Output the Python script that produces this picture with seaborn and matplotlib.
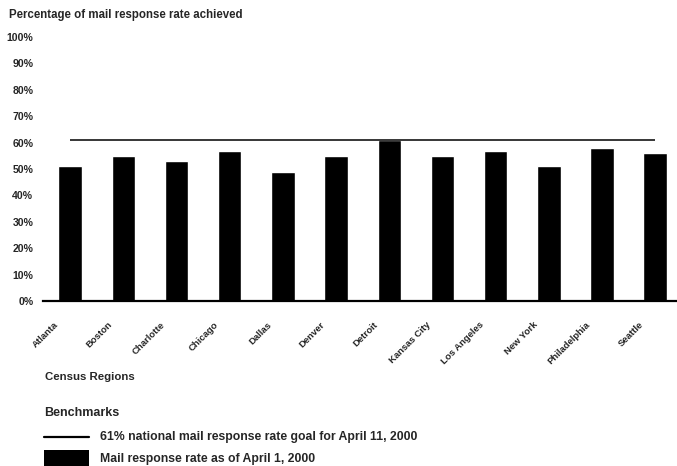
import matplotlib
matplotlib.use("Agg")
import matplotlib.pyplot as plt
import matplotlib.transforms as mtransforms
from matplotlib.patches import Rectangle
from matplotlib.lines import Line2D
import seaborn as sns
import pandas as pd

# Census regions and mail response rates (percent) as of April 1, 2000
regions = ["Atlanta", "Boston", "Charlotte", "Chicago", "Dallas", "Denver",
           "Detroit", "Kansas City", "Los Angeles", "New York", "Philadelphia", "Seattle"]
response_rates = [51, 55, 53, 57, 49, 55, 61, 55, 57, 51, 58, 56]
national_goal = 61
y_ticks = [0, 10, 20, 30, 40, 50, 60, 70, 80, 90, 100]
y_tick_labels = [f"{v}%" for v in y_ticks]

df = pd.DataFrame({"region": regions, "rate": response_rates})

sns.set_theme(style="white")
plt.rcParams["font.family"] = ["Liberation Sans", "DejaVu Sans"]
plt.rcParams["font.weight"] = "bold"

W, H = 677, 466
fig = plt.figure(figsize=(W / 100, H / 100), dpi=100)
fig.patch.set_facecolor("white")

# axes box in pixel units: left 43, right 677, top 37, bottom 301
ax = fig.add_axes([43 / W, 1 - 301 / H, (677 - 43) / W, (301 - 37) / H])

sns.barplot(data=df, x="region", y="rate", color="black", saturation=1,
            width=0.44, ax=ax)

# national goal line across the regions
ax.hlines(national_goal, 0, len(regions) - 1, color="black", linewidth=1.1)

ax.set_xlim(-0.51, 11.41)
ax.set_ylim(0, 100)
ax.set_yticks(y_ticks)
ax.set_yticklabels(y_tick_labels, fontsize=7.6, fontweight="bold")
ax.set_xlabel("")
ax.set_ylabel("")
ax.tick_params(axis="both", length=0)
ax.tick_params(axis="y", pad=7)

for side in ["left", "right", "top"]:
    ax.spines[side].set_visible(False)
ax.spines["bottom"].set_color("black")
ax.spines["bottom"].set_linewidth(1.6)

shift = mtransforms.ScaledTranslation(-16 / 100, -14 / 100, fig.dpi_scale_trans)
for lbl in ax.get_xticklabels():
    lbl.set_rotation(45)
    lbl.set_ha("right")
    lbl.set_va("top")
    lbl.set_rotation_mode("anchor")
    lbl.set_fontsize(6.8)
    lbl.set_fontweight("bold")
    lbl.set_transform(lbl.get_transform() + shift)


def px_text(x, y, s, **kw):
    fig.text(x / W, 1 - y / H, s, va="center", ha="left",
             fontweight="bold", **kw)


px_text(9, 15, "Percentage of mail response rate achieved", fontsize=8.3)
px_text(45, 377, "Census Regions", fontsize=8.2)
px_text(44, 413, "Benchmarks", fontsize=9.0)

# legend keys
fig.add_artist(Line2D([44 / W, 89 / W], [1 - 437 / H, 1 - 437 / H],
                      color="black", linewidth=1.6, transform=fig.transFigure))
fig.add_artist(Rectangle((44 / W, 1 - 466 / H), 45 / W, 16 / H,
                         facecolor="black", edgecolor="none",
                         transform=fig.transFigure))
px_text(100, 437, "61% national mail response rate goal for April 11, 2000", fontsize=8.8)
px_text(100, 459, "Mail response rate as of April 1, 2000", fontsize=8.8)

fig.savefig("out.png", dpi=100, facecolor="white")
